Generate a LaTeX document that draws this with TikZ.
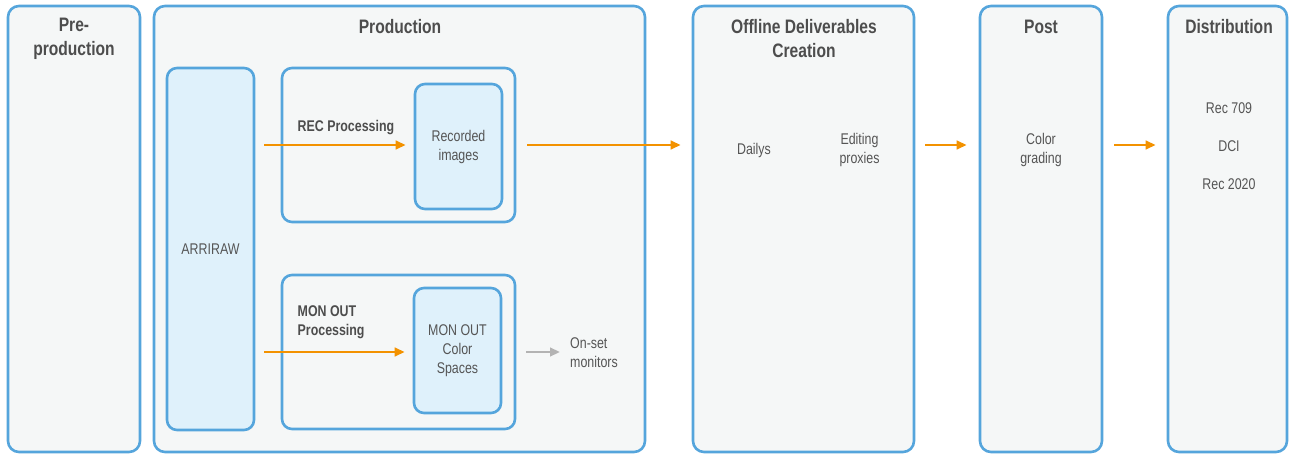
\documentclass[tikz,border=0pt]{standalone}
\usepackage{fontspec}
\setmainfont[FakeStretch=0.8]{Liberation Sans}
\usetikzlibrary{arrows.meta,calc}
\definecolor{bordb}{HTML}{55A5DC}
\definecolor{outfill}{HTML}{F5F7F7}
\definecolor{infill}{HTML}{DFF1FB}
\definecolor{orng}{HTML}{F39200}
\definecolor{grayarr}{HTML}{B3B3B3}
\definecolor{txt}{HTML}{555555}
\definecolor{ttl}{HTML}{4D4D4D}
\tikzset{
  stage/.style={draw=bordb,line width=2.6pt,fill=outfill,rounded corners=11pt,inner sep=0pt},
  inner/.style={draw=bordb,line width=2.6pt,fill=outfill,rounded corners=10pt,inner sep=0pt},
  leaf/.style={draw=bordb,line width=2.6pt,fill=infill,rounded corners=10pt,inner sep=0pt},
  title/.style={font=\bfseries\fontsize{19.5}{24}\selectfont,text=ttl,align=center,inner sep=0pt},
  body/.style={font=\fontsize{15.5}{19}\selectfont,text=txt,align=center,inner sep=0pt},
  lbl/.style={font=\bfseries\fontsize{15.5}{19}\selectfont,text=ttl,align=left,inner sep=0pt,anchor=west},
  flow/.style={draw=orng,line width=2.6pt,-{Triangle[length=10pt,width=8.5pt]}},
  gflow/.style={draw=grayarr,line width=2.6pt,-{Triangle[length=10pt,width=8.5pt]}}
}
\begin{document}
\begin{tikzpicture}[x=1pt,y=-1pt]
\useasboundingbox[fill=white] (0,0) rectangle (1292,454);
% stages
\node[stage,minimum width=132pt,minimum height=446pt] (pre) at (74,229) {};
\node[stage,minimum width=491pt,minimum height=446pt] (prod) at (399.5,229) {};
\node[stage,minimum width=221pt,minimum height=446pt] (off) at (803.5,229) {};
\node[stage,minimum width=122pt,minimum height=446pt] (post) at (1041,229) {};
\node[stage,minimum width=119pt,minimum height=446pt] (dist) at (1227.5,229) {};
% titles
\node[title] (tpre) at (74,38.5) {Pre-\\production};
\node[title] (tprod) at (400,26.5) {Production};
\node[title] (toff) at (804,38.5) {Offline Deliverables\\Creation};
\node[title] (tpost) at (1041,26.5) {Post};
\node[title] (tdist) at (1229,26.5) {Distribution};
% production internals
\node[leaf,minimum width=87pt,minimum height=362pt] (arri) at (210.5,249) {};
\node[body] (tarri) at (210.5,249) {ARRIRAW};
\node[inner,minimum width=233pt,minimum height=154pt] (rec) at (398.5,145) {};
\node[leaf,minimum width=87pt,minimum height=125pt] (recimg) at (458.5,146.5) {};
\node[body] (trecimg) at (458.5,146.5) {Recorded\\images};
\node[lbl] (trec) at (297.5,128) {REC Processing};
\node[inner,minimum width=233pt,minimum height=154pt] (mon) at (398.5,352) {};
\node[leaf,minimum width=87pt,minimum height=125pt] (moncs) at (457.5,350.5) {};
\node[body] (tmoncs) at (457.5,351) {MON OUT\\Color\\Spaces};
\node[lbl] (tmon) at (297.5,322.5) {MON OUT\\Processing};
\node[body,align=left,anchor=west] (onset) at (570,352.5) {On-set\\monitors};
% offline / post / dist contents
\node[body] (dailys) at (754,150) {Dailys};
\node[body] (proxies) at (859.5,149.5) {Editing\\proxies};
\node[body] (grading) at (1041,149.5) {Color\\grading};
\node[body] (r709) at (1229,108) {Rec 709};
\node[body] (dci) at (1229,146) {DCI};
\node[body] (r2020) at (1229,184) {Rec 2020};
% arrows
\draw[flow,shorten <=9pt,shorten >=8pt] (arri.east |- rec.east) -- (recimg.west |- rec.east);
\draw[flow,shorten <=9pt,shorten >=8pt] (arri.east |- mon.east) -- (moncs.west |- mon.east);
\draw[flow,shorten <=11pt,shorten >=11pt] (rec.east) -- (off.west |- rec.east);
\draw[flow,shorten <=10pt,shorten >=12pt] (off.east |- rec.east) -- (post.west |- rec.east);
\draw[flow,shorten <=11pt,shorten >=11pt] (post.east |- rec.east) -- (dist.west |- rec.east);
\draw[gflow,shorten <=24pt,shorten >=10pt] (moncs.east |- mon.east) -- (onset.west |- mon.east);
\end{tikzpicture}
\end{document}
